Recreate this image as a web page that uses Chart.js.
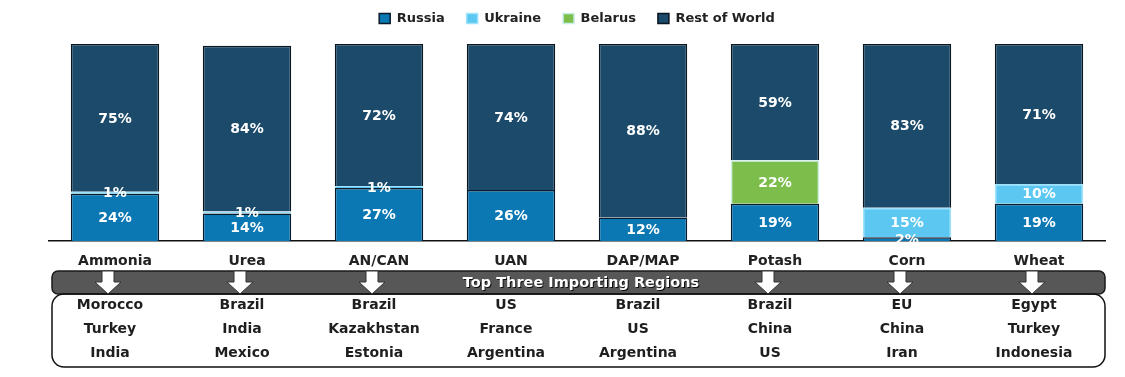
<!DOCTYPE html>
<html>
<head>
<meta charset="utf-8">
<script src="https://cdn.jsdelivr.net/npm/chart.js@4"></script>
<style>
  html, body { margin: 0; padding: 0; background: #fff; }
  #wrap { width: 1125px; height: 377px; }
</style>
</head>
<body>
<div id="wrap"><canvas id="myChart"></canvas></div>
<script>
var categories = ['Ammonia', 'Urea', 'AN/CAN', 'UAN', 'DAP/MAP', 'Potash', 'Corn', 'Wheat'];
var russia = [24, 14, 27, 26, 12, 19, 2, 19];
var ukraine = [1, 1, 1, 0, 0, 0, 15, 10];
var belarus = [0, 0, 0, 0, 0, 22, 0, 0];
var restOfWorld = [75, 84, 72, 74, 88, 59, 83, 71];
var panelTitle = 'Top Three Importing Regions';
var importers = [
  ['Morocco', 'Turkey', 'India'],
  ['Brazil', 'India', 'Mexico'],
  ['Brazil', 'Kazakhstan', 'Estonia'],
  ['US', 'France', 'Argentina'],
  ['Brazil', 'US', 'Argentina'],
  ['Brazil', 'China', 'US'],
  ['EU', 'China', 'Iran'],
  ['Egypt', 'Turkey', 'Indonesia']
];
// no arrow where the panel title sits
var arrowSkip = [3, 4];

var FONT = "'DejaVu Sans', Verdana, sans-serif";

// white % labels inside each segment
var segmentLabels = {
  id: 'segmentLabels',
  afterDatasetsDraw: function(chart) {
    var ctx = chart.ctx;
    ctx.save();
    ctx.font = 'bold 14px ' + FONT;
    ctx.fillStyle = '#fff';
    ctx.textAlign = 'center';
    ctx.textBaseline = 'middle';
    chart.data.datasets.forEach(function(ds, di) {
      var meta = chart.getDatasetMeta(di);
      meta.data.forEach(function(bar, i) {
        var v = ds.data[i];
        if (!v) return;
        ctx.fillText(v + '%', bar.x, (bar.y + bar.base) / 2 + 1);
      });
    });
    ctx.restore();
  }
};

// importing regions panel under the axis
var importPanel = {
  id: 'importPanel',
  afterDraw: function(chart) {
    var ctx = chart.ctx;
    var xs = chart.scales.x;
    var left = 52, right = 1105;
    ctx.save();
    // gray header bar
    ctx.beginPath();
    ctx.roundRect(left, 271, right - left, 23, 6);
    ctx.fillStyle = '#575757';
    ctx.fill();
    ctx.lineWidth = 1.5;
    ctx.strokeStyle = '#1a1a1a';
    ctx.stroke();
    // box with names
    ctx.beginPath();
    ctx.roundRect(left, 294, right - left, 73, 12);
    ctx.lineWidth = 1.5;
    ctx.strokeStyle = '#111';
    ctx.stroke();
    // title
    ctx.font = 'bold 14.5px ' + FONT;
    ctx.textAlign = 'center';
    ctx.textBaseline = 'middle';
    ctx.shadowColor = 'rgba(0,0,0,0.85)';
    ctx.shadowOffsetX = 1;
    ctx.shadowOffsetY = 1;
    ctx.fillStyle = '#fff';
    ctx.fillText(panelTitle, 581, 283);
    ctx.shadowColor = 'transparent';
    // arrows
    categories.forEach(function(c, i) {
      if (arrowSkip.indexOf(i) >= 0) return;
      var cx = xs.getPixelForValue(i) - 7;
      ctx.beginPath();
      ctx.moveTo(cx - 6, 271);
      ctx.lineTo(cx + 6, 271);
      ctx.lineTo(cx + 6, 282);
      ctx.lineTo(cx + 13, 282);
      ctx.lineTo(cx, 294);
      ctx.lineTo(cx - 13, 282);
      ctx.lineTo(cx - 6, 282);
      ctx.closePath();
      ctx.fillStyle = '#fff';
      ctx.fill();
      ctx.lineWidth = 1;
      ctx.strokeStyle = '#333';
      ctx.stroke();
    });
    // region names
    ctx.font = 'bold 14px ' + FONT;
    ctx.fillStyle = '#1e1e1e';
    importers.forEach(function(list, i) {
      var cx = xs.getPixelForValue(i) - 5;
      list.forEach(function(name, r) {
        ctx.fillText(name, cx, 305 + r * 24);
      });
    });
    ctx.restore();
  }
};

var ctx = document.getElementById('myChart').getContext('2d');
var myChart = new Chart(ctx, {
  type: 'bar',
  data: {
    labels: categories,
    datasets: [
      { label: 'Russia', data: russia, backgroundColor: '#0b78b4', borderColor: '#0a1a28', borderWidth: 1.5 },
      { label: 'Ukraine', data: ukraine, backgroundColor: '#5cc8f1', borderColor: '#9ee2fb', borderWidth: 1.5 },
      { label: 'Belarus', data: belarus, backgroundColor: '#7cbd4b', borderColor: '#c9f0e8', borderWidth: 1.5 },
      { label: 'Rest of World', data: restOfWorld, backgroundColor: '#1c4a6a', borderColor: '#0a1622', borderWidth: 1.5 }
    ]
  },
  options: {
    responsive: true,
    maintainAspectRatio: false,
    animation: false,
    layout: { padding: { left: 49, right: 20, top: -10, bottom: 95 } },
    datasets: { bar: { categoryPercentage: 0.67, barPercentage: 1 } },
    scales: {
      x: {
        stacked: true,
        grid: { display: false, drawTicks: false },
        border: { display: true, color: '#111', width: 1.5 },
        ticks: { color: '#222', padding: 12, font: { family: FONT, size: 14, weight: 'bold' } }
      },
      y: {
        stacked: true,
        display: false,
        min: 0,
        max: 104.5
      }
    },
    plugins: {
      legend: {
        position: 'top',
        labels: {
          boxWidth: 11,
          boxHeight: 10,
          padding: 22,
          color: '#222',
          font: { family: FONT, size: 13, weight: 'bold' }
        }
      },
      title: { display: false },
      tooltip: { enabled: false }
    }
  },
  plugins: [segmentLabels, importPanel]
});
</script>
</body>
</html>
